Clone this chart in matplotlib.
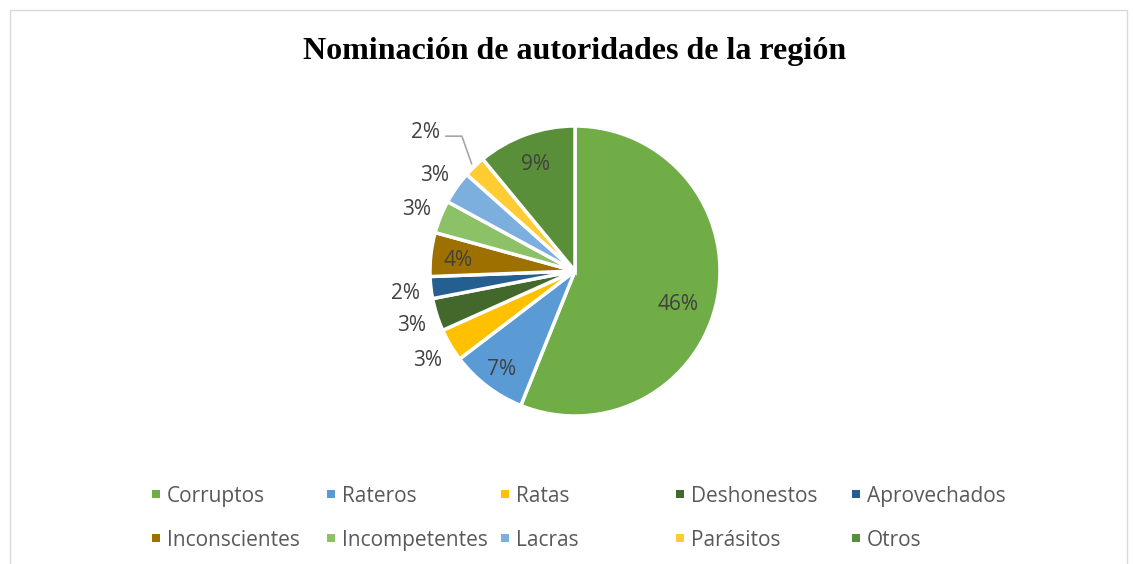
import matplotlib
matplotlib.use("Agg")
import matplotlib.pyplot as plt
import numpy as np
from matplotlib.patches import Rectangle

categories = ["Corruptos", "Rateros", "Ratas", "Deshonestos", "Aprovechados",
              "Inconscientes", "Incompetentes", "Lacras", "Parásitos", "Otros"]
values = [46, 7, 3, 3, 2, 4, 3, 3, 2, 9]
labels = ["46%", "7%", "3%", "3%", "2%", "4%", "3%", "3%", "2%", "9%"]
colors = ["#70AD47", "#5B9BD5", "#FFC000", "#43682B", "#255E91",
          "#9E7000", "#8CC168", "#7CAFDD", "#FFCD33", "#5A8F3A"]
title = "Nominación de autoridades de la región"

W, H = 1133, 564
fig = plt.figure(figsize=(W / 100, H / 100), dpi=100)

# chart border
fig.patches.append(Rectangle((10 / W, -0.1), (1127 - 10) / W, 1.1 - 10 / H,
                             transform=fig.transFigure, fill=False,
                             edgecolor="#D9D9D9", linewidth=1))

fig.text(575 / W, 1 - 51 / H, title, ha="center", va="center",
         fontsize=23, fontweight="bold", family="Liberation Serif", color="black")

cx, cy, r = 575, 271, 145
span = 1.5
sz = 2 * span * r
ax = fig.add_axes([(cx - sz / 2) / W, 1 - (cy + sz / 2) / H, sz / W, sz / H])

wedges, _ = ax.pie(values, colors=colors, startangle=90, counterclock=False,
                   radius=1.0, wedgeprops=dict(edgecolor="white", linewidth=2.5))
ax.set_xlim(-span, span)
ax.set_ylim(-span, span)
ax.set_aspect("equal")
ax.axis("off")

lab_col = "#404040"
fs = 15
inside = {0: 0.74, 1: 0.83, 5: 0.81, 9: 0.8}
for i, w in enumerate(wedges):
    mid = np.deg2rad((w.theta1 + w.theta2) / 2)
    if i == 0:
        mid = np.deg2rad(-17)
    if i in inside:
        rr = inside[i]
        ax.text(rr * np.cos(mid), rr * np.sin(mid), labels[i], ha="center",
                va="center_baseline", fontsize=fs, family="Open Sans", color=lab_col)
    elif i == 8:
        x0, y0 = 1.0 * np.cos(mid), 1.0 * np.sin(mid)
        lx, ly = -1.03, 0.97
        ax.plot([x0 - 0.02, -0.78, -0.89], [y0 + 0.02, ly - 0.04, ly - 0.04],
                color="#A6A6A6", linewidth=1.2, clip_on=False)
        ax.text(lx, ly, labels[i], ha="center", va="center_baseline",
                fontsize=fs, family="Open Sans", color=lab_col)
    else:
        rr = 1.18
        ax.text(rr * np.cos(mid), rr * np.sin(mid), labels[i], ha="center",
                va="center_baseline", fontsize=fs, family="Open Sans", color=lab_col)

# legend (manual layout in two rows)
col_x = [156, 331, 505, 680, 856]
row_y = [494, 538]
for i, (name, c) in enumerate(zip(categories, colors)):
    x = col_x[i % 5]
    y = row_y[i // 5]
    fig.patches.append(Rectangle(((x - 4) / W, 1 - (y + 4) / H), 8 / W, 8 / H,
                                 transform=fig.transFigure, facecolor=c, edgecolor="none"))
    fig.text((x + 11) / W, 1 - y / H, name, ha="left", va="center_baseline",
             fontsize=fs, family="Open Sans", color="#595959")

fig.savefig("out.png", dpi=100, facecolor="white")
